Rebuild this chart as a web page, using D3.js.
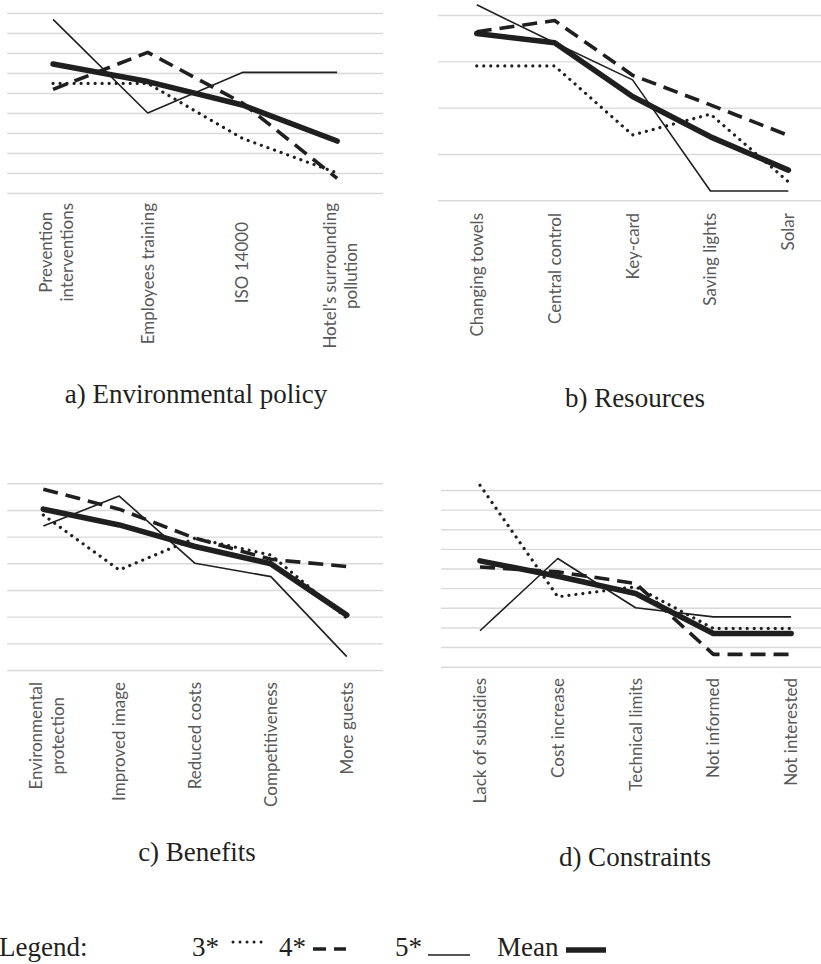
<!DOCTYPE html>
<html><head><meta charset="utf-8">
<script src="https://cdn.jsdelivr.net/npm/d3@7"></script>
<style>body{margin:0;background:#fff} svg{display:block}</style>
</head><body>
<svg id="chart" width="821" height="964"></svg>
<script>
// ---------- DATA ----------
const seriesNames = ["3*", "4*", "5*", "Mean"];

const catsA = ["Prevention\ninterventions", "Employees training", "ISO 14000", "Hotel’s surrounding\npollution"];
const a3    = [5.48, 5.48, 2.73, 1.00];
const a4    = [5.18, 7.03, 4.50, 0.73];
const a5    = [8.68, 4.00, 6.03, 6.03];
const aMean = [6.45, 5.57, 4.40, 2.60];
const ticksA = [0,1,2,3,4,5,6,7,8,9];

const catsB = ["Changing towels", "Central control", "Key-card", "Saving lights", "Solar"];
const b3    = [2.90, 2.90, 1.41, 1.86, 0.40];
const b4    = [3.64, 3.88, 2.70, 2.06, 1.40];
const b5    = [4.22, 3.40, 2.60, 0.20, 0.20];
const bMean = [3.60, 3.40, 2.24, 1.37, 0.65];
const ticksB = [0,1,2,3,4];

const catsC = ["Environmental\nprotection", "Improved image", "Reduced costs", "Competitiveness", "More guests"];
const c3    = [5.81, 3.75, 4.94, 4.31, 1.94];
const c4    = [6.78, 6.03, 4.94, 4.15, 3.88];
const c5    = [5.40, 6.52, 4.00, 3.50, 0.50];
const cMean = [6.03, 5.44, 4.63, 3.98, 2.06];
const ticksC = [0,1,2,3,4,5,6,7];

const catsD = ["Lack of subsidies", "Cost increase", "Technical limits", "Not informed", "Not interested"];
const d3s   = [9.24, 3.56, 4.07, 1.95, 1.95];
const d4    = [5.08, 4.83, 4.24, 0.63, 0.63];
const d5    = [1.83, 5.51, 3.00, 2.54, 2.54];
const dMean = [5.39, 4.61, 3.73, 1.69, 1.69];
const ticksD = [0,1,2,3,4,5,6,7,8,9];

const titles = ["a) Environmental policy", "b) Resources", "c) Benefits", "d) Constraints"];
const legendTitle = "Legend:";

// ---------- LAYOUT ----------
const ink = "#1f1f1f";
const styles = [
  {w: 3.2, dash: "0.01 7", cap: "round"},
  {w: 3.6, dash: "15 8", cap: "butt"},
  {w: 1.6, dash: null, cap: "butt"},
  {w: 5.6, dash: null, cap: "round"}
];
const panels = [
  {cats: catsA, series: [a3, a4, a5, aMean], ticks: ticksA, x0: 5.7, x1: 384.5, yTop: 13, yBot: 193, gx0: 7, gx1: 383, labelTop: 203, title: titles[0], tx: 196, ty: 403, shift: {"ISO 14000": 19}},
  {cats: catsB, series: [b3, b4, b5, bMean], ticks: ticksB, x0: 437.8, x1: 827.3, yTop: 15, yBot: 200.3, gx0: 438, gx1: 821, labelTop: 213, title: titles[1], tx: 635, ty: 407, shift: {}},
  {cats: catsC, series: [c3, c4, c5, cMean], ticks: ticksC, x0: 5.4, x1: 384.7, yTop: 483.3, yBot: 670, gx0: 7, gx1: 383, labelTop: 682, title: titles[2], tx: 197, ty: 861, shift: {}},
  {cats: catsD, series: [d3s, d4, d5, dMean], ticks: ticksD, x0: 441.1, x1: 830, yTop: 490, yBot: 666.7, gx0: 441, gx1: 821, labelTop: 678, title: titles[3], tx: 635, ty: 866, shift: {}}
];

const svg = d3.select("#chart");
const labelFont = "Lato, 'Open Sans', sans-serif";
const labelSize = 17;
const lh = 21.5;

panels.forEach(p => {
  const g = svg.append("g");
  const x = d3.scalePoint().domain(p.cats).range([p.x0, p.x1]).padding(0.5);
  const y = d3.scaleLinear().domain([0, d3.max(p.ticks)]).range([p.yBot, p.yTop]);

  // gridlines through a d3 axis
  const grid = g.append("g").attr("transform", `translate(${p.gx0},0)`)
    .call(d3.axisLeft(y).tickValues(p.ticks).tickSize(-(p.gx1 - p.gx0)).tickFormat(""));
  grid.select(".domain").remove();
  grid.selectAll(".tick line").attr("stroke", "#d9d9d9").attr("stroke-width", 1.4);

  // series lines
  const line = d3.line().x((d, i) => x(p.cats[i])).y(d => y(d));
  p.series.forEach((s, k) => {
    const st = styles[k];
    g.append("path").datum(s).attr("d", line)
      .attr("fill", "none").attr("stroke", ink)
      .attr("stroke-width", st.w)
      .attr("stroke-dasharray", st.dash)
      .attr("stroke-linecap", st.cap)
      .attr("stroke-linejoin", "round");
  });

  // category labels (rotated, top-aligned)
  p.cats.forEach(c => {
    const lines = c.split("\n");
    const cx = x(c) + (lines.length > 1 ? 3.5 : 0);
    const texts = lines.map((t, j) => {
      return g.append("text").text(t)
        .attr("font-family", labelFont).attr("font-size", labelSize)
        .attr("fill", "#595959").attr("text-anchor", "middle").attr("dy", "0.35em");
    });
    const maxLen = d3.max(texts, t => t.node().getComputedTextLength());
    const cy = p.labelTop + (p.shift[c] || 0) + maxLen / 2;
    texts.forEach((t, j) => {
      const lx = cx + (j - (lines.length - 1) / 2) * lh;
      t.attr("transform", `translate(${lx},${cy}) rotate(-90)`);
    });
  });

  // title
  g.append("text").text(p.title)
    .attr("x", p.tx).attr("y", p.ty)
    .attr("text-anchor", "middle")
    .attr("font-family", "'Liberation Serif', 'Times New Roman', serif")
    .attr("font-size", 27).attr("fill", "#231f20");
});

// ---------- LEGEND ----------
const lg = svg.append("g").attr("font-family", "'Liberation Serif', 'Times New Roman', serif")
  .attr("font-size", 27).attr("fill", "#231f20");
const lb = 956;
lg.append("text").attr("x", -1).attr("y", lb).text(legendTitle);
const legendItems = [
  {tx: 192, sx0: 233, sx1: 262, sy: 942, k: 0, dash: "0.01 7", w: 3.0},
  {tx: 279, sx0: 313, sx1: 346, sy: 949, k: 1, dash: "13 8", w: 3.6},
  {tx: 395, sx0: 428, sx1: 470, sy: 955, k: 2, dash: null, w: 1.6},
  {tx: 497, sx0: 566, sx1: 606, sy: 950, k: 3, dash: null, w: 5.6}
];
legendItems.forEach(it => {
  lg.append("text").attr("x", it.tx).attr("y", lb).text(seriesNames[it.k]);
  lg.append("line").attr("x1", it.sx0).attr("x2", it.sx1).attr("y1", it.sy).attr("y2", it.sy)
    .attr("stroke", ink).attr("stroke-width", it.w)
    .attr("stroke-dasharray", it.dash)
    .attr("stroke-linecap", it.k === 0 ? "round" : "butt");
});
</script>
</body></html>
